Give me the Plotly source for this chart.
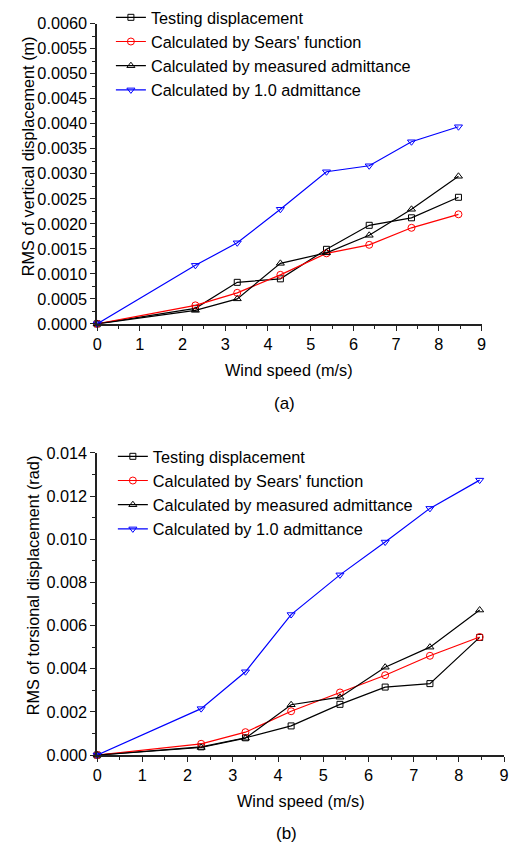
import plotly.graph_objects as go

# Wind speeds (m/s)
wind_speed = [0, 2.3, 3.28, 4.29, 5.37, 6.37, 7.36, 8.46]

# (a) RMS of vertical displacement (m)
vert_testing = [0, 0.00031, 0.00083, 0.00090, 0.00149, 0.00197, 0.00212, 0.00253]
vert_sears = [0, 0.00037, 0.00062, 0.00098, 0.00141, 0.00158, 0.00192, 0.00219]
vert_measured = [0, 0.00027, 0.00050, 0.00121, 0.00142, 0.00177, 0.00229, 0.00295]
vert_unit = [0, 0.00117, 0.00162, 0.00229, 0.00304, 0.00316, 0.00364, 0.00394]

# (b) RMS of torsional displacement (rad)
tors_testing = [0, 0.00038, 0.00080, 0.00135, 0.00235, 0.00315, 0.00331, 0.00545]
tors_sears = [0, 0.00052, 0.00106, 0.00203, 0.00290, 0.00370, 0.00460, 0.00547]
tors_measured = [0, 0.00035, 0.00078, 0.00233, 0.00268, 0.00407, 0.00500, 0.00672]
tors_unit = [0, 0.00215, 0.00386, 0.00651, 0.00835, 0.00987, 0.01143, 0.01274]

series_names = [
    "Testing displacement",
    "Calculated by Sears' function",
    "Calculated by measured admittance",
    "Calculated by 1.0 admittance",
]
series_styles = [
    ("black", "square-open", 6),
    ("#FF0000", "circle-open", 7),
    ("black", "triangle-up-open", 7),
    ("#0000FF", "triangle-down-open", 7),
]

W, H = 513, 854
FONT = "Liberation Sans, Arial, sans-serif"
FS = 16.3

fig = go.Figure()

panels = [
    ([vert_testing, vert_sears, vert_measured, vert_unit], "x", "y", "legend"),
    ([tors_testing, tors_sears, tors_measured, tors_unit], "x2", "y2", "legend2"),
]
for values, xa, ya, lg in panels:
    for name, (color, symbol, size), yv in zip(series_names, series_styles, values):
        fig.add_trace(go.Scatter(
            x=wind_speed, y=yv, name=name, mode="lines+markers",
            line=dict(color=color, width=1.2),
            marker=dict(symbol=symbol, size=size, color=color,
                        line=dict(color=color, width=1)),
            xaxis=xa, yaxis=ya, legend=lg, cliponaxis=False,
        ))


def px_x(p):
    return p / W


def px_y(p):
    return 1 - p / H


axis_common = dict(
    showline=True, linecolor="#222", linewidth=1.5, mirror=False,
    ticks="outside", ticklen=5, tickwidth=1.2, tickcolor="#222",
    showgrid=False, zeroline=False,
    tickfont=dict(family=FONT, size=FS, color="black"),
)

fig.update_layout(
    width=W, height=H,
    margin=dict(l=0, r=0, t=0, b=0),
    paper_bgcolor="white", plot_bgcolor="white",
    font=dict(family=FONT, size=FS, color="black"),
    xaxis=dict(domain=[px_x(94), px_x(486)], range=[0, 9], dtick=1,
               minor=dict(dtick=0.5, ticks="outside", ticklen=3, tickcolor="#222"),
               anchor="y", **axis_common),
    yaxis=dict(domain=[px_y(321), px_y(14)], range=[0, 0.006], dtick=0.0005,
               tickformat=".4f",
               minor=dict(dtick=0.00025, ticks="outside", ticklen=3, tickcolor="#222"),
               anchor="x", **axis_common),
    xaxis2=dict(domain=[px_x(94), px_x(509)], range=[0, 9], dtick=1,
                minor=dict(dtick=0.5, ticks="outside", ticklen=3, tickcolor="#222"),
                anchor="y2", **axis_common),
    yaxis2=dict(domain=[px_y(762), px_y(453)], range=[0, 0.014], dtick=0.002,
                tickformat=".3f",
                minor=dict(dtick=0.001, ticks="outside", ticklen=3, tickcolor="#222"),
                anchor="x2", **axis_common),
    legend=dict(x=px_x(108), y=px_y(-10), xanchor="left", yanchor="top",
                bgcolor="rgba(0,0,0,0)", borderwidth=0, tracegroupgap=0,
                font=dict(family=FONT, size=FS, color="black")),
    legend2=dict(x=px_x(110), y=px_y(439), xanchor="left", yanchor="top",
                 bgcolor="rgba(0,0,0,0)", borderwidth=0, tracegroupgap=0,
                 font=dict(family=FONT, size=FS, color="black")),
    showlegend=True,
)

labels = [
    ("Wind speed (m/s)", 290, 368, 0),
    ("(a)", 285, 402, 0),
    ("RMS of vertical displacement (m)", 23, 150, -90),
    ("Wind speed (m/s)", 302, 809, 0),
    ("(b)", 287, 842, 0),
    ("RMS of torsional displacement (rad)", 28, 588, -90),
]
for text, xp, yp, ang in labels:
    fig.add_annotation(
        text=text, x=px_x(xp), y=px_y(yp), xref="paper", yref="paper",
        xanchor="center", yanchor="middle", showarrow=False, textangle=ang,
        font=dict(family=FONT, size=17 if text.startswith("(") else FS, color="black"),
    )

fig.write_html("out.html")
